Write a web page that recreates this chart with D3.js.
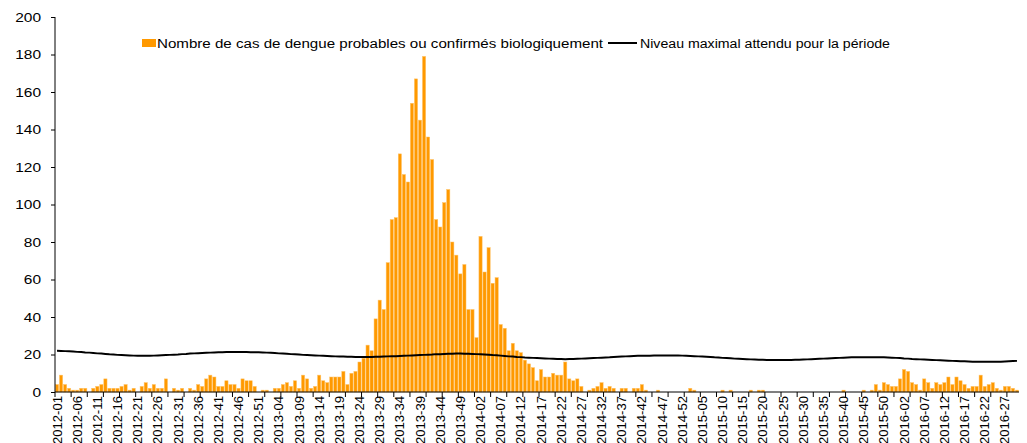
<!DOCTYPE html>
<html>
<head>
<meta charset="utf-8">
<script src="https://cdn.jsdelivr.net/npm/d3@7"></script>
<style>
  body { margin: 0; background: #fff; }
  text { font-family: "Liberation Sans", Arial, sans-serif; fill: #000; }
</style>
</head>
<body>
<div id="chart"></div>
<script>
// weeks per year shown (2016 stops at week 30)
var years = [2012, 2013, 2014, 2015, 2016];
var weeksInYear = [52, 52, 52, 53, 30];

// weekly number of dengue cases
var cases2012 = [4, 9, 4, 2, 1, 1, 2, 2, 0, 2, 3, 4, 7, 2, 2, 2, 3, 4, 1, 2, 0, 3, 5, 2, 4, 2,
                 2, 7, 0, 2, 1, 2, 0, 2, 1, 4, 3, 7, 9, 8, 3, 3, 6, 4, 4, 2, 7, 6, 6, 3, 0, 1];
var cases2013 = [1, 0, 2, 2, 4, 5, 3, 6, 2, 9, 7, 2, 3, 9, 6, 5, 8, 8, 8, 11, 4, 10, 11, 16, 18, 25,
                 22, 39, 49, 44, 69, 92, 93, 127, 116, 112, 154, 167, 145, 179, 136, 124, 92, 88, 101, 108, 80, 73, 63, 68, 44, 44];
var cases2014 = [29, 83, 64, 77, 58, 61, 36, 34, 22, 26, 22, 21, 17, 15, 13, 6, 12, 8, 8, 10, 9, 9, 16, 7, 6, 7,
                 3, 0, 1, 2, 3, 5, 2, 3, 2, 0, 2, 2, 0, 2, 2, 4, 1, 0, 0, 1, 0, 0, 0, 0, 0, 0];
var cases2015 = [0, 2, 1, 0, 0, 0, 0, 0, 0, 1, 0, 1, 0, 0, 0, 0, 1, 0, 1, 1, 0, 0, 0, 0, 0, 0, 0,
                 0, 0, 0, 0, 0, 0, 0, 0, 0, 0, 0, 0, 1, 0, 0, 0, 0, 1, 0, 1, 4, 1, 5, 4, 3, 3];
var cases2016 = [7, 12, 11, 5, 4, 1, 7, 5, 2, 5, 4, 5, 8, 4, 8, 6, 4, 2, 3, 3, 9, 3, 4, 5, 2, 1, 3, 3, 2, 1];

// expected maximum level
var seuil2012 = [22.0, 21.9, 21.8, 21.7, 21.6, 21.4, 21.3, 21.1, 21.0, 20.8, 20.6, 20.5, 20.3, 20.1, 20.0, 19.8, 19.7, 19.6,
                 19.5, 19.4, 19.3, 19.3, 19.3, 19.3, 19.4, 19.5, 19.6, 19.7, 19.8, 19.9, 20.0, 20.2, 20.3, 20.5, 20.6, 20.7,
                 20.8, 20.9, 21.0, 21.1, 21.2, 21.2, 21.3, 21.3, 21.3, 21.3, 21.3, 21.3, 21.2, 21.2, 21.2, 21.1];
var seuil2013 = [21.0, 20.9, 20.8, 20.6, 20.5, 20.4, 20.2, 20.1, 20.0, 19.8, 19.7, 19.6, 19.5, 19.4, 19.3, 19.2, 19.1, 19.0,
                 18.9, 18.9, 18.8, 18.8, 18.7, 18.7, 18.7, 18.7, 18.7, 18.8, 18.8, 18.9, 19.0, 19.1, 19.1, 19.2, 19.3, 19.4,
                 19.5, 19.6, 19.7, 19.8, 19.9, 20.0, 20.2, 20.2, 20.3, 20.4, 20.4, 20.5, 20.5, 20.4, 20.4, 20.3];
var seuil2014 = [20.2, 20.1, 20.0, 19.9, 19.7, 19.6, 19.4, 19.2, 19.0, 18.9, 18.7, 18.6, 18.4, 18.3, 18.2, 18.1, 18.0, 17.9,
                 17.8, 17.7, 17.6, 17.6, 17.5, 17.6, 17.6, 17.7, 17.8, 17.9, 18.0, 18.1, 18.2, 18.3, 18.4, 18.5, 18.7, 18.8,
                 18.9, 19.0, 19.1, 19.2, 19.3, 19.3, 19.4, 19.4, 19.5, 19.5, 19.5, 19.5, 19.5, 19.5, 19.5, 19.4];
var seuil2015 = [19.3, 19.2, 19.1, 19.0, 18.9, 18.8, 18.7, 18.5, 18.4, 18.2, 18.1, 18.0, 17.8, 17.7, 17.6, 17.5, 17.4, 17.3,
                 17.2, 17.2, 17.1, 17.1, 17.1, 17.1, 17.1, 17.1, 17.1, 17.2, 17.2, 17.3, 17.4, 17.5, 17.6, 17.7, 17.8, 17.9,
                 18.0, 18.1, 18.2, 18.3, 18.4, 18.5, 18.6, 18.6, 18.6, 18.6, 18.6, 18.6, 18.6, 18.5, 18.4, 18.3, 18.2];
var seuil2016 = [18.1, 17.9, 17.8, 17.6, 17.5, 17.4, 17.3, 17.2, 17.1, 17.0, 16.9, 16.8, 16.7, 16.6, 16.5, 16.4, 16.4, 16.3,
                 16.2, 16.2, 16.1, 16.1, 16.1, 16.1, 16.2, 16.2, 16.3, 16.4, 16.5, 16.6];

var yTicks = [0, 20, 40, 60, 80, 100, 120, 140, 160, 180, 200];
var legendLabels = ["Nombre de cas de dengue probables ou confirmés biologiquement",
                    "Niveau maximal attendu pour la période"];

// build week labels like 2012-01
var weeks = [];
years.forEach(function(yr, i) {
  for (var w = 1; w <= weeksInYear[i]; w++) {
    weeks.push(yr + "-" + (w < 10 ? "0" + w : w));
  }
});
var cases = [].concat(cases2012, cases2013, cases2014, cases2015, cases2016);
var seuil = [].concat(seuil2012, seuil2013, seuil2014, seuil2015, seuil2016);

var w = 1027, h = 443;
var svg = d3.select("#chart").append("svg")
  .attr("width", w).attr("height", h);

var x = d3.scaleBand().domain(weeks).range([55, 1019]).paddingInner(0.2).paddingOuter(0.1);
var y = d3.scaleLinear().domain([0, 200]).range([392, 17]);

// bars
svg.selectAll("rect.bar")
  .data(cases)
  .enter()
  .append("rect")
  .attr("class", "bar")
  .attr("x", function(d, i) { return x(weeks[i]); })
  .attr("y", function(d) { return y(d); })
  .attr("width", x.bandwidth())
  .attr("height", function(d) { return y(0) - y(d); })
  .attr("fill", "#ff9900")
  .attr("stroke", "#ffc46a")
  .attr("stroke-width", 0.5);

// threshold line
var line = d3.line()
  .x(function(d, i) { return x(weeks[i]) + x.bandwidth() / 2; })
  .y(function(d) { return y(d); });

svg.append("path")
  .datum(seuil)
  .attr("d", line)
  .attr("fill", "none")
  .attr("stroke", "#000")
  .attr("stroke-width", 2);

// y axis
var yAxis = svg.append("g")
  .attr("transform", "translate(55,0)")
  .call(d3.axisLeft(y).tickValues(yTicks).tickSize(4).tickPadding(10));
yAxis.select(".domain").attr("stroke", "#000").attr("d", "M0," + y(200) + "V" + y(0));
yAxis.selectAll("text")
  .style("font-size", "13.5px")
  .attr("textLength", function(d) { return String(d).length * 8.6; })
  .attr("lengthAdjust", "spacingAndGlyphs");

// x axis line + ticks every 4 weeks
svg.append("line")
  .attr("x1", 55).attr("x2", 1019)
  .attr("y1", y(0)).attr("y2", y(0))
  .attr("stroke", "#000");

var step = x.step();
svg.selectAll("line.xtick")
  .data(d3.range(0, weeks.length, 4))
  .enter()
  .append("line")
  .attr("x1", function(i) { return x(weeks[i]) - step * 0.1; })
  .attr("x2", function(i) { return x(weeks[i]) - step * 0.1; })
  .attr("y1", y(0)).attr("y2", y(0) + 5)
  .attr("stroke", "#000");

// week labels every 5 weeks
svg.selectAll("text.xlab")
  .data(weeks.filter(function(d, i) { return i % 5 === 0; }))
  .enter()
  .append("text")
  .attr("class", "xlab")
  .attr("transform", function(d) {
    return "translate(" + (x(d) + x.bandwidth() / 2 + 4.5) + "," + (y(0) + 4) + ") rotate(-90)";
  })
  .attr("text-anchor", "end")
  .style("font-size", "13px")
  .attr("textLength", 48)
  .attr("lengthAdjust", "spacingAndGlyphs")
  .text(function(d) { return d; });

// legend
var lg = svg.append("g");
lg.append("rect")
  .attr("x", 142).attr("y", 39).attr("width", 14).attr("height", 8)
  .attr("fill", "#ff9900");
lg.append("text")
  .attr("x", 157).attr("y", 47.5)
  .style("font-size", "12.5px")
  .attr("textLength", 446)
  .attr("lengthAdjust", "spacingAndGlyphs")
  .text(legendLabels[0]);
lg.append("line")
  .attr("x1", 608).attr("x2", 637).attr("y1", 43).attr("y2", 43)
  .attr("stroke", "#000").attr("stroke-width", 2);
lg.append("text")
  .attr("x", 640).attr("y", 47.5)
  .style("font-size", "12.5px")
  .attr("textLength", 250)
  .attr("lengthAdjust", "spacingAndGlyphs")
  .text(legendLabels[1]);
</script>
</body>
</html>
